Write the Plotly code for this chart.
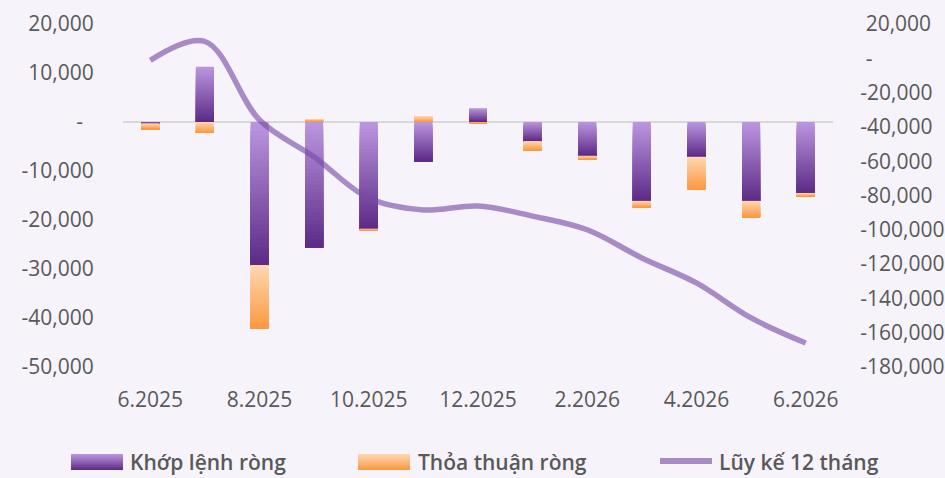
import plotly.graph_objects as go

# ---------------- data ----------------
categories = ["6.2025", "7.2025", "8.2025", "9.2025", "10.2025", "11.2025", "12.2025",
              "1.2026", "2.2026", "3.2026", "4.2026", "5.2026", "6.2026"]
khop_lenh = [-300, 11300, -29200, -25600, -21800, -8000, 2800,
             -3900, -6900, -16100, -7100, -16100, -14500]
thoa_thuan = [-1200, -2200, -13000, 600, -400, 1200, -300,
              -2000, -800, -1400, -6600, -3300, -800]
luy_ke = [-1200, 9800, -36000, -57500, -81500, -88400, -86100,
          -92000, -100000, -116400, -131000, -151400, -166000]
x_ticks = categories[::2]
left_ticks = [20000, 10000, 0, -10000, -20000, -30000, -40000, -50000]
right_ticks = [20000, 0, -20000, -40000, -60000, -80000, -100000,
               -120000, -140000, -160000, -180000]
series_names = ["Khớp lệnh ròng", "Thỏa thuận ròng", "Lũy kế 12 tháng"]

# ---------------- style ----------------
W, H = 945, 478
ML, MR, MT, MB = 123, 112, 24, 111
BG = "#f6f3fb"
TXT = "#595959"
FONT = "Open Sans"
PURPLE = ((188, 151, 224), (92, 42, 134))
ORANGE = ((254, 216, 178), (251, 152, 64))
LINE_COL = "rgba(120,75,165,0.62)"
N = 32
BAR_W = 0.33


def mix(c, t):
    a, b = c
    return "rgb(%d,%d,%d)" % tuple(round(a[i] + (b[i] - a[i]) * t) for i in range(3))


# relative stacking segments
segs = {0: [], 1: []}
for i in range(len(categories)):
    pos, neg = 0.0, 0.0
    for s, v in enumerate((khop_lenh[i], thoa_thuan[i])):
        if v >= 0:
            segs[s].append((pos, pos + v))
            pos += v
        else:
            segs[s].append((neg + v, neg))
            neg += v

fig = go.Figure()
for s, cols in ((0, PURPLE), (1, ORANGE)):
    lo = [a for a, b in segs[s]]
    hi = [b for a, b in segs[s]]
    for k in range(N):
        tops = [h - k * (h - l) / N for l, h in zip(lo, hi)]
        fig.add_trace(go.Bar(
            x=categories, base=lo, y=[t - l for t, l in zip(tops, lo)],
            width=BAR_W, marker=dict(color=mix(cols, (k + 0.5) / N), line=dict(width=0)),
            showlegend=False, hoverinfo="skip", name=series_names[s]))

fig.add_trace(go.Scatter(
    x=categories, y=luy_ke, yaxis="y2", mode="lines",
    line=dict(color=LINE_COL, width=5.5, shape="spline", smoothing=1.0),
    showlegend=False, name=series_names[2]))


def fmt_left(v):
    if v == 0:
        return "-\u00a0\u00a0"
    return f"{v:,}"


def fmt_right(v):
    if v == 0:
        return "\u00a0-"
    if v > 0:
        return "\u00a0" + f"{v:,}"
    return f"{v:,}"


pw, ph = W - ML - MR, H - MT - MB


def px(x):
    return (x - ML) / pw


def py(y):
    return (H - MB - y) / ph


shapes = []
annotations = []
LEG_Y = 462
# custom legend with gradient swatches
for (x0, x1), cols in (((71, 123), PURPLE), ((358, 410), ORANGE)):
    y0, y1 = LEG_Y - 8, LEG_Y + 8
    M = 16
    for k in range(M):
        ytop = y0 + k * (y1 - y0) / M
        shapes.append(dict(type="rect", xref="paper", yref="paper",
                           x0=px(x0), x1=px(x1), y0=py(y1), y1=py(ytop),
                           fillcolor=mix(cols, (k + 0.5) / M), line=dict(width=0), layer="above"))
shapes.append(dict(type="line", xref="paper", yref="paper",
                   x0=px(660), x1=px(712), y0=py(LEG_Y - 1), y1=py(LEG_Y - 1),
                   line=dict(color=LINE_COL, width=6)))
for x, name in ((128, series_names[0]), (416, series_names[1]), (717, series_names[2])):
    annotations.append(dict(xref="paper", yref="paper", x=px(x), y=py(LEG_Y),
                            xanchor="left", yanchor="middle", showarrow=False, text=name,
                            font=dict(family=FONT, size=21, color=TXT, weight=600)))

fig.update_layout(
    width=W, height=H,
    margin=dict(l=ML, r=MR, t=MT, b=MB, autoexpand=False),
    paper_bgcolor=BG, plot_bgcolor=BG,
    barmode="overlay",
    font=dict(family=FONT, size=21, color=TXT),
    showlegend=False,
    shapes=shapes, annotations=annotations,
    xaxis=dict(type="category", tickmode="array", tickvals=x_ticks, ticktext=x_ticks,
               showgrid=False, zeroline=False, showline=False, automargin=False,
               ticks="outside", ticklen=14, tickcolor="rgba(0,0,0,0)",
               tickfont=dict(family=FONT, size=21, color=TXT)),
    yaxis=dict(range=[-50000, 20000], tickmode="array", tickvals=left_ticks,
               ticktext=[fmt_left(v) for v in left_ticks], automargin=False,
               showgrid=False, zeroline=True, zerolinecolor="#d9d9d9", zerolinewidth=2,
               showline=False, ticks="outside", ticklen=24, tickcolor="rgba(0,0,0,0)",
               tickfont=dict(family=FONT, size=21, color=TXT)),
    yaxis2=dict(range=[-180000, 20000], overlaying="y", side="right", tickmode="array",
                tickvals=right_ticks, ticktext=[fmt_right(v) for v in right_ticks],
                showgrid=False, zeroline=False, showline=False, automargin=False,
                ticks="outside", ticklen=22, tickcolor="rgba(0,0,0,0)",
                tickfont=dict(family=FONT, size=21, color=TXT)),
)

fig.write_html("out.html", config={"displayModeBar": False},
               post_script="document.body.style.margin='0';document.body.style.padding='0';"
                           "document.body.style.background='" + BG + "';")
